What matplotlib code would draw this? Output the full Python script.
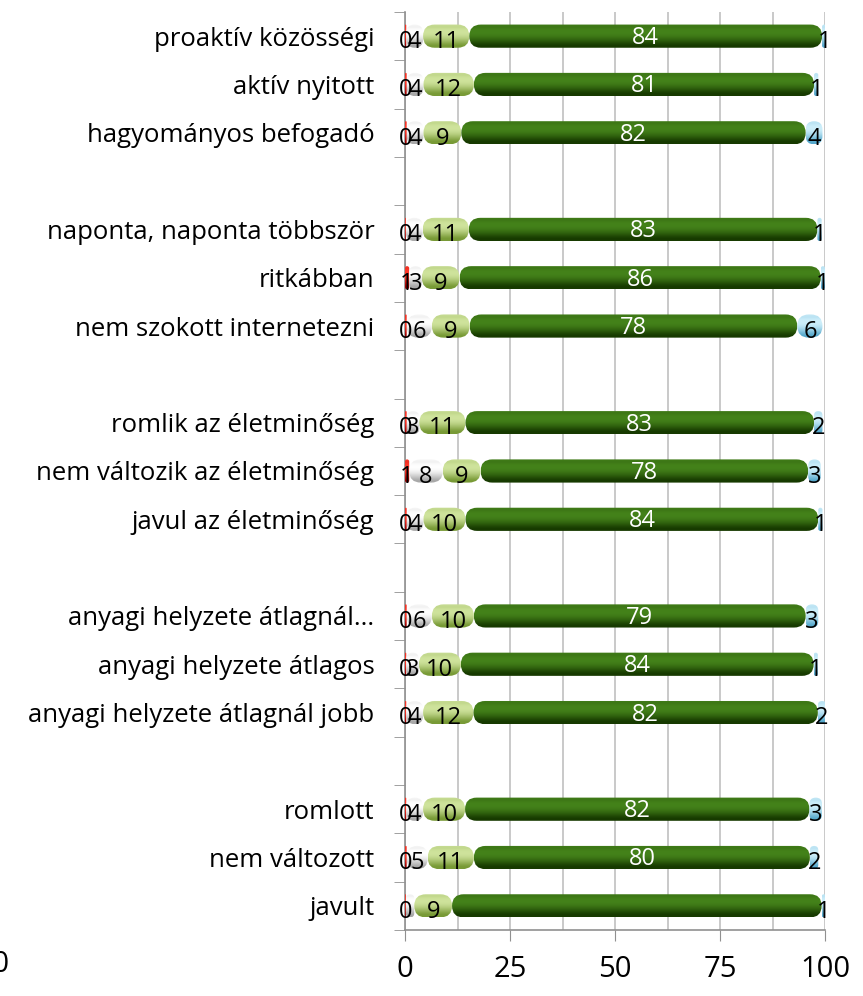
import numpy as np
import matplotlib
matplotlib.use("Agg")
import matplotlib.pyplot as plt
from matplotlib.patches import FancyBboxPatch
from matplotlib.colors import to_rgb

plt.rcParams['font.family'] = ['Open Sans', 'DejaVu Sans']

# categories, top to bottom, in groups of three
groups = [
    ["proaktív közösségi", "aktív nyitott", "hagyományos befogadó"],
    ["naponta, naponta többször", "ritkábban", "nem szokott internetezni"],
    ["romlik az életminőség", "nem változik az életminőség", "javul az életminőség"],
    ["anyagi helyzete átlagnál...", "anyagi helyzete átlagos", "anyagi helyzete átlagnál jobb"],
    ["romlott", "nem változott", "javult"],
]

# series values (same order as categories)
red_vals = [0.3, 0.4, 0.4, 0.2, 1, 0.4, 0.4, 1, 0.4, 0.4, 0.3, 0.3, 0.3, 0.4, 0.2]
white_vals = [4, 4, 4, 4, 3, 6, 3, 8, 4, 6, 3, 4, 4, 5, 2]
lgreen_vals = [11, 12, 9, 11, 9, 9, 11, 9, 10, 10, 10, 12, 10, 11, 9]
dgreen_vals = [84, 81, 82, 83, 86, 78, 83, 78, 84, 79, 84, 82, 82, 80, 88]
blue_vals = [1, 1, 4, 1, 1, 6, 2, 3, 1, 3, 1, 2, 3, 2, 1]

# labels not shown in the original (row index, series index)
hidden = {(14, 1), (14, 3)}

# (dark edge, highlight) for the tube shading
shades = [("#9a0000", "#ff3a2a"),
          ("#a8a8a8", "#ffffff"),
          ("#789a36", "#cfe39c"),
          ("#173a00", "#44821a"),
          ("#56a8cc", "#cdeefa")]
label_colors = ["black", "black", "black", "white", "black"]

cats = [c for g in groups for c in g]
ypos = []
slot = 18
for g in groups:
    for c in g:
        ypos.append(slot)
        slot -= 1
    slot -= 1
ypos = np.array(ypos, dtype=float)

fig = plt.figure(figsize=(8.63, 9.96), dpi=100)
ax = fig.add_axes([405 / 863, 1 - 930 / 996, 420 / 863, 918 / 996])

series = [red_vals, white_vals, lgreen_vals, dgreen_vals, blue_vals]
bar_h = 0.48
left = np.zeros(len(cats))
containers = []
for vals in series:
    bc = ax.barh(ypos, vals, left=left, height=bar_h, color="none")
    containers.append(bc)
    left = left + np.array(vals, dtype=float)

ax.set_xlim(0, 100)
ax.set_ylim(-0.5, 18.5)

# pixel scale for round caps
px_x = 420 / 100
px_y = 918 / 19
m_aspect = px_x / px_y
r_cap = (bar_h * px_y / 2) / px_x

t = np.linspace(0, 1, 64)
prof = np.clip(1 - ((t - 0.68) / 0.6) ** 2, 0, 1) ** 1.5
prof = prof + 0.3 * np.clip((t - 0.88) / 0.12, 0, 1)
prof = np.clip(prof, 0, 1)


def grad_img(dark, light):
    d = np.array(to_rgb(dark))
    l = np.array(to_rgb(light))
    col = d[None, :] + (l - d)[None, :] * prof[:, None]
    return np.repeat(col[:, None, :], 2, axis=1)


for si, bc in enumerate(containers):
    img = grad_img(*shades[si])
    for ri, p in enumerate(bc.patches):
        p.set_visible(False)
        x, y, w, h = p.get_x(), p.get_y(), p.get_width(), p.get_height()
        if w <= 0:
            continue
        r = min(r_cap, w / 2)
        fb = FancyBboxPatch((x, y), w, h,
                            boxstyle=f"round,pad=0,rounding_size={r}",
                            mutation_aspect=m_aspect,
                            facecolor="none", edgecolor="none", zorder=3)
        ax.add_patch(fb)
        im = ax.imshow(img, extent=(x, x + w, y, y + h), origin="lower",
                       aspect="auto", interpolation="bilinear", zorder=3)
        im.set_clip_path(fb)

        if (ri, si) in hidden:
            continue
        val = series[si][ri]
        dy = -0.04 if si == 3 else -0.12
        ax.text(x + w / 2, y + h / 2 + dy, f"{val:.0f}", ha="center", va="center",
                fontsize=17, color=label_colors[si], zorder=5)

ax.set_xlim(0, 100)
ax.set_ylim(-0.5, 18.5)

# axes styling
ax.set_xticks([0, 25, 50, 75, 100])
ax.set_xticks(np.arange(0, 101, 12.5), minor=True)
ax.xaxis.grid(True, which="both", color="#c0c0c0", lw=1.2, zorder=0)
ax.set_axisbelow(True)
ax.tick_params(axis="x", which="major", length=8, color="#909090", labelsize=21, pad=10)
ax.tick_params(axis="x", which="minor", length=0)

ax.set_yticks(ypos)
ax.set_yticklabels(cats)
ax.set_yticks(np.arange(-0.5, 18.6, 1), minor=True)
ax.tick_params(axis="y", which="major", length=0, labelsize=18.5, pad=22)
ax.tick_params(axis="y", which="minor", length=8, color="#909090")

for s in ["top", "right"]:
    ax.spines[s].set_visible(False)
for s in ["left", "bottom"]:
    ax.spines[s].set_color("#909090")
    ax.spines[s].set_linewidth(1.2)

# clipped label at the far left edge
fig.text(9 / 863, 1 - 965 / 996, "100", ha="right", va="center", fontsize=21)

fig.savefig("out.png", dpi=100)
